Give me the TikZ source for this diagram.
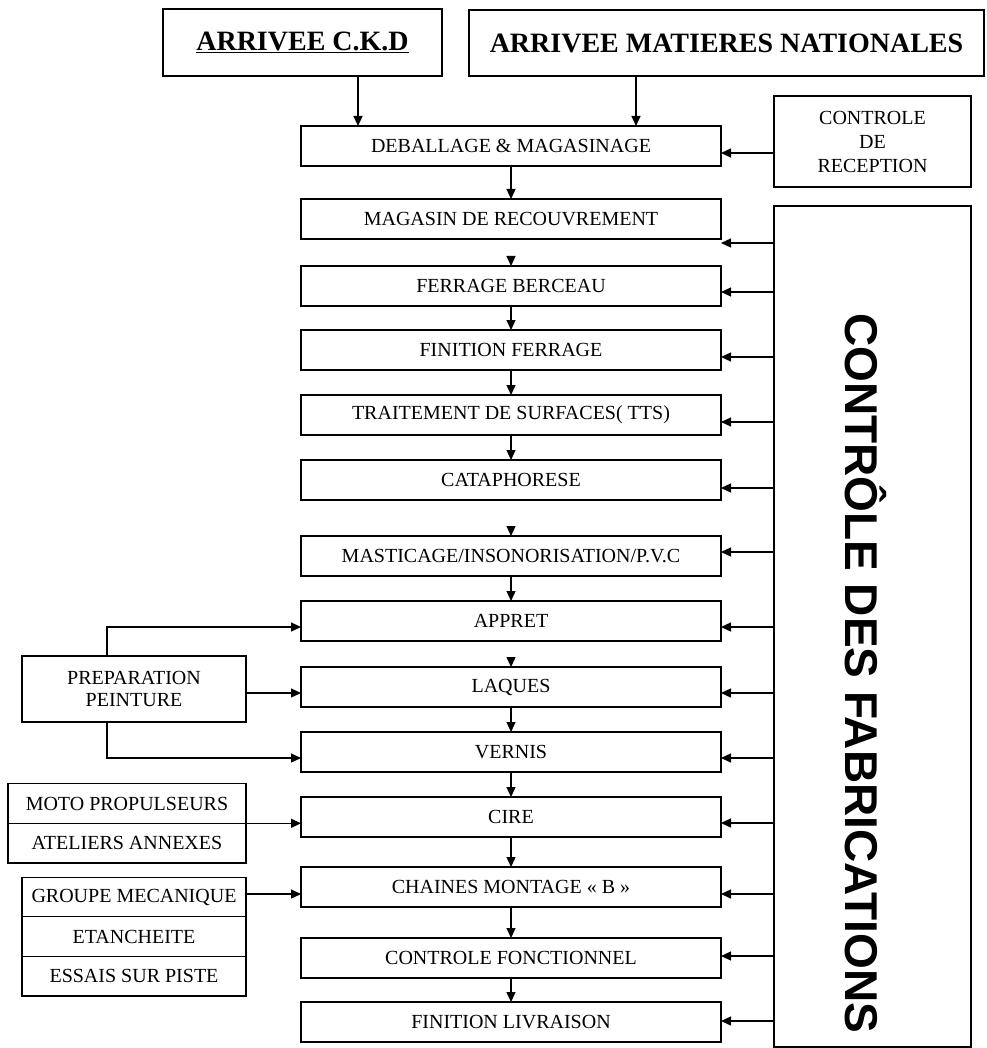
\documentclass[tikz,border=0pt]{standalone}
\usepackage{fontspec}
\setmainfont{Liberation Serif}
\newfontfamily\fabfont{Liberation Sans}
\usepackage{tikz}
\usetikzlibrary{arrows.meta,positioning,calc}

\begin{document}
\begin{tikzpicture}[x=1pt,y=-1pt,font=\fontsize{20}{24}\selectfont,node distance=25pt,
  n/.style={draw,line width=1.3pt,outer sep=0pt,inner sep=0pt,minimum width=420pt,minimum height=40pt},
  side/.style={draw,line width=1.3pt,outer sep=0pt,inner sep=0pt,minimum height=39.6pt,align=center},
  head/.style={draw,line width=1.3pt,outer sep=0pt,inner sep=0pt,font=\fontsize{28}{32}\selectfont\bfseries},
  arr/.style={-{Triangle[length=10pt,width=9pt]},line width=1.3pt}]
\useasboundingbox (0,0) rectangle (986,1048);
\node[head,minimum width=279pt,minimum height=67pt] (ckd) at (302.5,42.5) {\underline{ARRIVEE C.K.D}};
\node[head,minimum width=515pt,minimum height=66pt] (mat) at (726.5,43) {ARRIVEE MATIERES NATIONALES};
\node[n] (deball) at (511,146) {DEBALLAGE \& MAGASINAGE};
\node[side,minimum width=197pt,minimum height=91pt] (recep) at (872.5,141.5) {CONTROLE\\DE\\RECEPTION};
\node[n,below=33pt of deball] (magasin) {MAGASIN DE RECOUVREMENT};
\node[n,below=27pt of magasin] (ferrage) {FERRAGE BERCEAU};
\node[n,below=24pt of ferrage] (finfer) {FINITION FERRAGE};
\node[n,below=of finfer] (tts) {TRAITEMENT DE SURFACES( TTS)};
\node[n,below=of tts] (cata) {CATAPHORESE};
\node[n,below=36pt of cata] (mastic) {MASTICAGE/INSONORISATION/P.V.C};
\node[n,below=of mastic] (appret) {APPRET};
\node[n,below=26pt of appret] (laques) {LAQUES};
\node[n,below=of laques] (vernis) {VERNIS};
\node[n,below=of vernis] (cire) {CIRE};
\node[n,below=30pt of cire] (chaines) {CHAINES MONTAGE « B »};
\node[n,below=31pt of chaines] (ctrlf) {CONTROLE FONCTIONNEL};
\node[n,below=24pt of ctrlf] (livr) {FINITION LIVRAISON};
\node[draw,line width=1.3pt,outer sep=0pt,inner sep=0pt,minimum width=197pt,minimum height=841pt] (fab) at (872.5,626.5) {};
\node[rotate=-90,font=\fabfont\bfseries\fontsize{46}{50}\selectfont] (fabtxt) at (866,673) {CONTRÔLE DES FABRICATIONS};
\node[side,minimum width=224pt,minimum height=66pt,font=\fontsize{20}{22}\selectfont] (prep) at (134,689) {PREPARATION\\PEINTURE};
\node[side,minimum width=238pt] (moto) at (127,803.5) {MOTO PROPULSEURS};
\node[side,minimum width=238pt,below=0pt of moto] (atel) {ATELIERS ANNEXES};
\node[side,minimum width=224pt] (grp) at (134,897) {GROUPE MECANIQUE};
\node[side,minimum width=224pt,below=0pt of grp] (etan) {ETANCHEITE};
\node[side,minimum width=224pt,below=0pt of etan] (essais) {ESSAIS SUR PISTE};
\coordinate (da) at ($(deball.north west)+(57,0)$);
\coordinate (db) at ($(deball.north west)+(335,0)$);
\coordinate (r) at ($(deball.east)+(0,7)$);
\draw[arr] (ckd.south -| da) -- (da); \draw[arr] (mat.south -| db) -- (db); \draw[arr] (recep.west |- r) -- (r);
\draw[arr] (deball)--(magasin); \draw[arr,shorten <=17pt] (magasin)--(ferrage); \draw[arr] (ferrage)--(finfer);
\draw[arr] (finfer)--(tts); \draw[arr] (tts)--(cata); \draw[arr,shorten <=26pt] (cata)--(mastic);
\draw[arr] (mastic)--(appret); \draw[arr,shorten <=16pt] (appret)--(laques); \draw[arr] (laques)--(vernis);
\draw[arr] (vernis)--(cire); \draw[arr] (cire)--(chaines); \draw[arr] (chaines)--(ctrlf); \draw[arr] (ctrlf)--(livr);
\foreach \b/\d in {magasin/24,ferrage/6,finfer/7,tts/7,cata/8,mastic/-4,appret/6,laques/6,vernis/6,cire/6,chaines/7,ctrlf/-2,livr/-1}{
  \coordinate (t) at ($(\b.east)+(0,\d)$);
  \draw[arr] (fab.west |- t) -- (t);
}
\coordinate (pa) at ($(appret.west)+(0,6)$);
\coordinate (pl) at ($(laques.west)+(0,6)$);
\coordinate (pv) at ($(vernis.west)+(0,6)$);
\coordinate (gc) at ($(chaines.west)+(0,7)$);
\draw[arr] ([xshift=-27pt]prep.north) |- (pa); \draw[arr] (prep.east |- pl) -- (pl); \draw[arr] ([xshift=-27pt]prep.south) |- (pv);
\draw[arr] (moto.south east) -- (moto.south east -| cire.west); \draw[arr] (grp.east |- gc) -- (gc);
\end{tikzpicture}
\end{document}
